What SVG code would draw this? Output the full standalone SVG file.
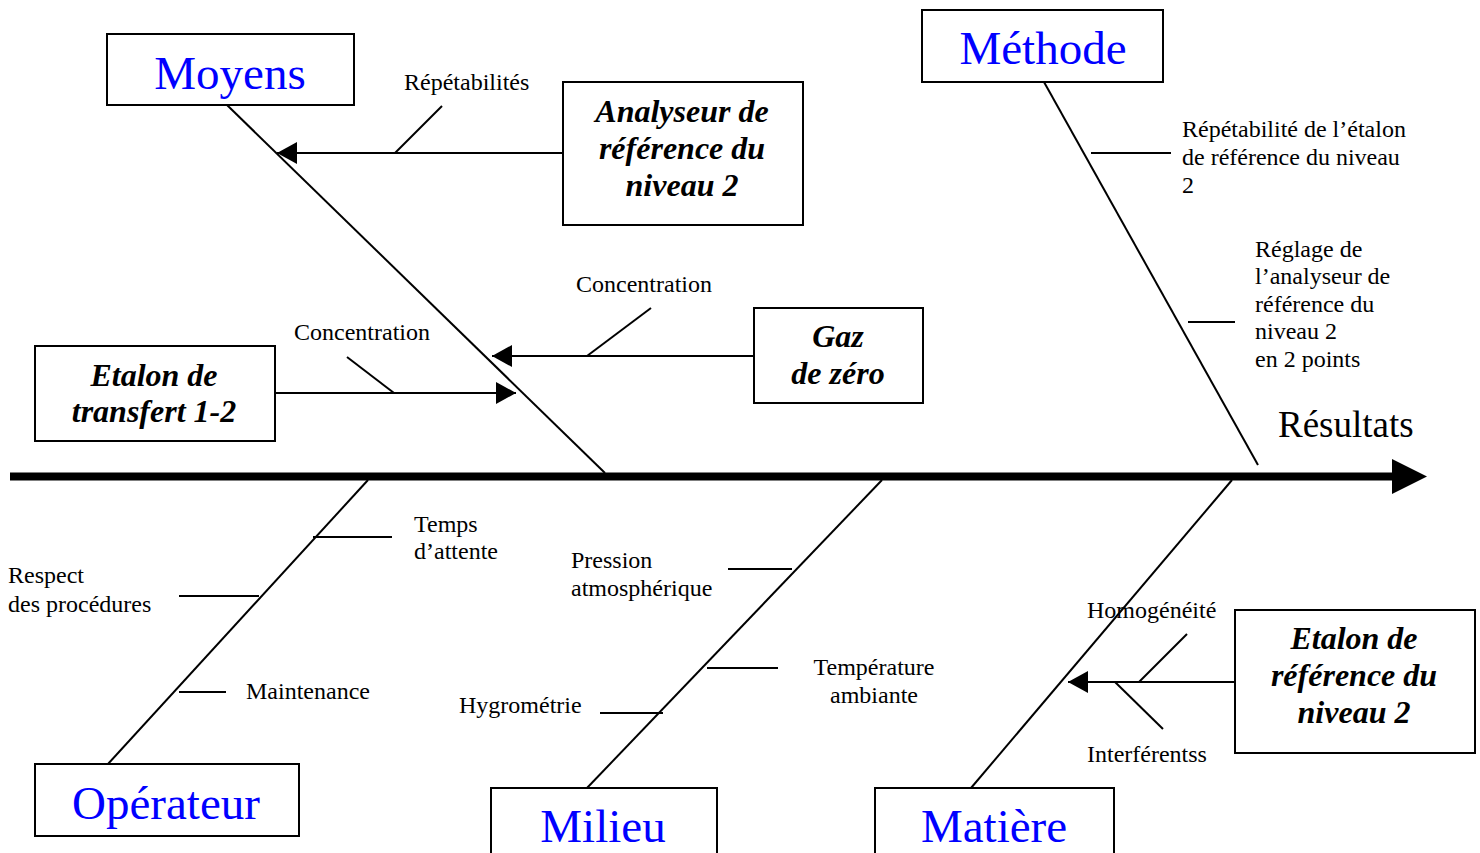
<svg xmlns="http://www.w3.org/2000/svg" width="1480" height="853" viewBox="0 0 1480 853">
  <style>
    .box { fill: #ffffff; stroke: #000000; stroke-width: 2; }
    .cat { font-family: "Liberation Serif", "Times New Roman", serif; font-size: 47px; fill: #0000ff; text-anchor: middle; }
    .src { font-family: "Liberation Serif", "Times New Roman", serif; font-size: 32px; font-weight: bold; font-style: italic; fill: #000000; text-anchor: middle; }
    .lbl { font-family: "Liberation Serif", "Times New Roman", serif; font-size: 24px; fill: #000000; }
    .res { font-family: "Liberation Serif", "Times New Roman", serif; font-size: 37px; fill: #000000; }
    .bone { stroke: #000000; stroke-width: 2; fill: none; }
    .arr { stroke: #000000; stroke-width: 2; fill: none; marker-end: url(#head); }
  </style>
  <defs>
    <marker id="head" markerUnits="userSpaceOnUse" markerWidth="20" markerHeight="22" refX="20" refY="11" orient="auto">
      <polygon points="0,0 20,11 0,22" fill="#000000"/>
    </marker>
  </defs>
  <rect width="1480" height="853" fill="#ffffff"/>

  <!-- main spine and branches -->
  <g id="connectors">
    <line x1="10" y1="476.5" x2="1394" y2="476.5" stroke="#000000" stroke-width="8"/>
    <polygon points="1392,459 1427,476.5 1392,494" fill="#000000"/>

    <!-- category bones -->
    <line class="bone" x1="227" y1="105" x2="605" y2="473"/>
    <line class="bone" x1="1044" y1="82" x2="1258" y2="465"/>
    <line class="bone" x1="368" y1="480" x2="108" y2="764"/>
    <line class="bone" x1="882" y1="480" x2="587" y2="788"/>
    <line class="bone" x1="1232" y1="480" x2="971" y2="788"/>

    <!-- cause arrows -->
    <line class="arr" x1="563" y1="153" x2="277" y2="153"/>
    <line class="arr" x1="754" y1="356" x2="492" y2="356"/>
    <line class="arr" x1="275" y1="393" x2="516" y2="393"/>
    <line class="arr" x1="1235" y1="682" x2="1068" y2="682"/>

    <!-- sub-cause ticks -->
    <line class="bone" x1="395" y1="153" x2="442" y2="106"/>
    <line class="bone" x1="587" y1="356" x2="651" y2="308"/>
    <line class="bone" x1="347" y1="357" x2="394" y2="393"/>
    <line class="bone" x1="1091" y1="153" x2="1171" y2="153"/>
    <line class="bone" x1="1188" y1="322" x2="1235" y2="322"/>
    <line class="bone" x1="313" y1="537" x2="392" y2="537"/>
    <line class="bone" x1="179" y1="596" x2="259" y2="596"/>
    <line class="bone" x1="179" y1="692" x2="226" y2="692"/>
    <line class="bone" x1="728" y1="569" x2="792" y2="569"/>
    <line class="bone" x1="707" y1="668" x2="778" y2="668"/>
    <line class="bone" x1="600" y1="713" x2="663" y2="713"/>
    <line class="bone" x1="1139" y1="682" x2="1187" y2="634"/>
    <line class="bone" x1="1115" y1="682" x2="1163" y2="729"/>
  </g>

  <!-- category nodes -->
  <g id="moyens">
    <rect class="box" x="107" y="34" width="247" height="71"/>
    <text class="cat" x="230" y="89">Moyens</text>
  </g>
  <g id="methode">
    <rect class="box" x="922" y="10" width="241" height="72"/>
    <text class="cat" x="1043" y="64">Méthode</text>
  </g>
  <g id="operateur">
    <rect class="box" x="35" y="764" width="264" height="72"/>
    <text class="cat" x="166" y="819">Opérateur</text>
  </g>
  <g id="milieu">
    <rect class="box" x="491" y="788" width="226" height="80"/>
    <text class="cat" x="603" y="842">Milieu</text>
  </g>
  <g id="matiere">
    <rect class="box" x="875" y="788" width="239" height="80"/>
    <text class="cat" x="994" y="842">Matière</text>
  </g>

  <!-- source nodes -->
  <g id="analyseur">
    <rect class="box" x="563" y="82" width="240" height="143"/>
    <text class="src" x="682" y="122">Analyseur de</text>
    <text class="src" x="682" y="159">référence du</text>
    <text class="src" x="682" y="196">niveau 2</text>
  </g>
  <g id="gaz-zero">
    <rect class="box" x="754" y="308" width="169" height="95"/>
    <text class="src" x="838" y="347">Gaz</text>
    <text class="src" x="838" y="384">de zéro</text>
  </g>
  <g id="etalon-transfert">
    <rect class="box" x="35" y="346" width="240" height="95"/>
    <text class="src" x="154" y="386">Etalon de</text>
    <text class="src" x="154" y="422">transfert 1-2</text>
  </g>
  <g id="etalon-reference">
    <rect class="box" x="1235" y="610" width="240" height="143"/>
    <text class="src" x="1354" y="649">Etalon de</text>
    <text class="src" x="1354" y="686">référence du</text>
    <text class="src" x="1354" y="723">niveau 2</text>
  </g>

  <!-- cause labels -->
  <g id="labels">
    <text class="lbl" x="404" y="90">Répétabilités</text>
    <text class="lbl" x="576" y="292">Concentration</text>
    <text class="lbl" x="294" y="340">Concentration</text>
    <text class="lbl" x="1182" y="137">Répétabilité de l’étalon</text>
    <text class="lbl" x="1182" y="165">de référence du niveau</text>
    <text class="lbl" x="1182" y="193">2</text>
    <text class="lbl" x="1255" y="257">Réglage de</text>
    <text class="lbl" x="1255" y="284">l’analyseur de</text>
    <text class="lbl" x="1255" y="312">référence du</text>
    <text class="lbl" x="1255" y="339">niveau 2</text>
    <text class="lbl" x="1255" y="367">en 2 points</text>
    <text class="res" x="1278" y="437">Résultats</text>
    <text class="lbl" x="414" y="532">Temps</text>
    <text class="lbl" x="414" y="559">d’attente</text>
    <text class="lbl" x="8" y="583">Respect</text>
    <text class="lbl" x="8" y="612">des procédures</text>
    <text class="lbl" x="246" y="699">Maintenance</text>
    <text class="lbl" x="571" y="568">Pression</text>
    <text class="lbl" x="571" y="596">atmosphérique</text>
    <text class="lbl" x="874" y="675" text-anchor="middle">Température</text>
    <text class="lbl" x="874" y="703" text-anchor="middle">ambiante</text>
    <text class="lbl" x="459" y="713">Hygrométrie</text>
    <text class="lbl" x="1087" y="618">Homogénéité</text>
    <text class="lbl" x="1087" y="762">Interférentss</text>
  </g>
</svg>
